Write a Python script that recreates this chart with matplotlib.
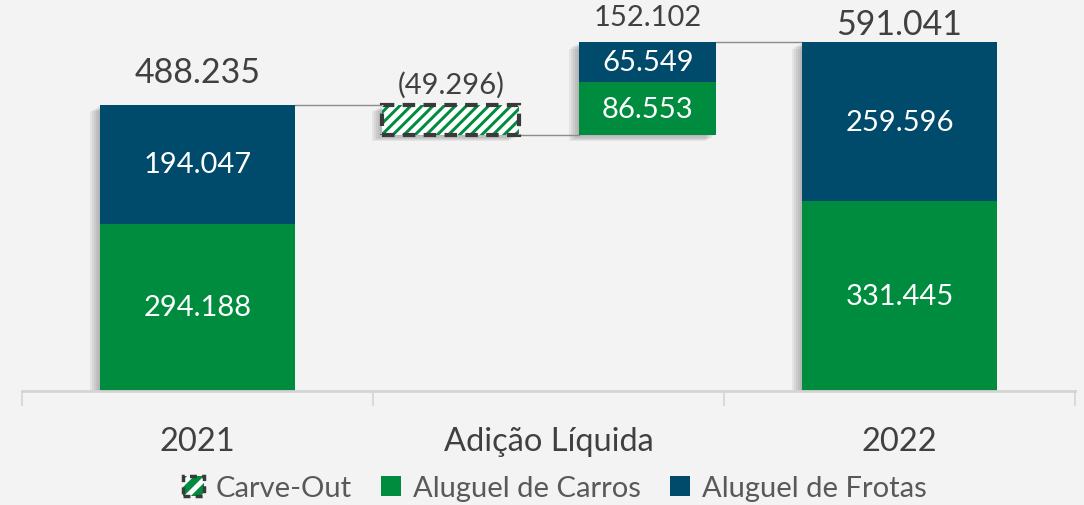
import matplotlib
matplotlib.use('Agg')
import matplotlib.pyplot as plt
import matplotlib.patheffects as pe
from matplotlib.patches import Patch
from matplotlib.legend_handler import HandlerTuple

# valores (mil)
categorias = ['2021', 'Adição Líquida', '2022']
carros = [294.188, 86.553, 331.445]
frotas = [194.047, 65.549, 259.596]
carve_out = -49.296
series = ['Carve-Out', 'Aluguel de Carros', 'Aluguel de Frotas']

GREEN = '#008C3E'
NAVY = '#004B6B'
TXT = '#404040'
BG = '#F3F3F3'

plt.rcParams['font.family'] = ['Lato', 'DejaVu Sans']
plt.rcParams['hatch.linewidth'] = 3.5

fig = plt.figure(figsize=(10.84, 5.06), dpi=100, facecolor=BG)
ax = fig.add_axes([0.0203, 0.2253, 0.9714, 0.7747])
ax.set_facecolor(BG)
y0, y1 = 20, 662
ax.set_xlim(-0.5, 2.5)
ax.set_ylim(y0, y1)

# sombra suave (varias camadas)
shadow = [pe.SimplePatchShadow(offset=(-d, -d * 0.6), shadow_rgbFace='#555555', alpha=0.09)
          for d in (1.5, 3, 4.5, 6, 7.5)]

def add_shadow(x, h, b, w):
    s = ax.bar(x, h, bottom=b, width=w, color='none', zorder=2)
    s[0].set_path_effects(shadow)

def fmt(v):
    return f'{v:.3f}'

# 2021 e 2022 empilhados
total_ini = carros[0] + frotas[0]
total_fim = carros[2] + frotas[2]
for i in (0, 2):
    add_shadow(i, carros[i] + frotas[i], 0, 0.556)
    ax.bar(i, carros[i], width=0.556, color=GREEN, zorder=3)
    ax.bar(i, frotas[i], bottom=carros[i], width=0.556, color=NAVY, zorder=3)
    ax.text(i, (max(0, y0) + carros[i]) / 2, fmt(carros[i]), color='white',
            ha='center', va='center', fontsize=21, zorder=5)
    ax.text(i, carros[i] + frotas[i] / 2, fmt(frotas[i]), color='white',
            ha='center', va='center', fontsize=21, zorder=5)

# carve-out
xc, xa = 1 - 0.278, 1 + 0.283
w_mid = 0.39
base_co = total_ini + carve_out
add_shadow(xc, -carve_out, base_co, w_mid)
ax.bar(xc, -carve_out, bottom=base_co, width=w_mid, color=GREEN,
       edgecolor='white', hatch='///', linewidth=0, zorder=3)
ax.bar(xc, -carve_out, bottom=base_co, width=w_mid, fill=False,
       edgecolor='#3a3a3a', linestyle=(0, (3, 2)), linewidth=3, zorder=4)
ax.annotate(f'({-carve_out:.3f})', (xc, total_ini), xytext=(0, 5), textcoords='offset points',
            ha='center', va='bottom', fontsize=21, color=TXT)

# adição líquida
add_shadow(xa, carros[1] + frotas[1], base_co, w_mid)
ax.bar(xa, carros[1], bottom=base_co, width=w_mid, color=GREEN, zorder=3)
ax.bar(xa, frotas[1], bottom=base_co + carros[1], width=w_mid, color=NAVY, zorder=3)
ax.text(xa, base_co + carros[1] / 2, fmt(carros[1]), color='white',
        ha='center', va='center', fontsize=21, zorder=5)
ax.text(xa, base_co + carros[1] + frotas[1] / 2, fmt(frotas[1]), color='white',
        ha='center', va='center', fontsize=21, zorder=5)
top_mid = base_co + carros[1] + frotas[1]
ax.annotate(fmt(carros[1] + frotas[1]), (xa, top_mid), xytext=(0, 9), textcoords='offset points',
            ha='center', va='bottom', fontsize=21, color=TXT)

# totais
ax.annotate(fmt(total_ini), (0, total_ini), xytext=(0, 12), textcoords='offset points',
            ha='center', va='bottom', fontsize=24.5, color=TXT)
ax.annotate(fmt(total_fim), (2, total_fim), xytext=(0, 2), textcoords='offset points',
            ha='center', va='bottom', fontsize=24.5, color=TXT)

# linhas de ligação
lc = '#8c8c8c'
ax.plot([0.278, xc - w_mid / 2], [total_ini] * 2, color=lc, lw=1, zorder=2)
ax.plot([xc + w_mid / 2, xa - w_mid / 2], [base_co] * 2, color=lc, lw=1, zorder=2)
ax.plot([xa + w_mid / 2, 2 - 0.278], [top_mid] * 2, color=lc, lw=1, zorder=2)

# eixos
for s in ['top', 'right', 'left']:
    ax.spines[s].set_visible(False)
ax.spines['bottom'].set_color('#d4d4d4')
ax.spines['bottom'].set_linewidth(2)
ax.spines['bottom'].set_zorder(6)
ax.set_yticks([])
ax.set_xticks(range(3))
ax.set_xticklabels(categorias, fontsize=23.5, color=TXT)
ax.tick_params(axis='x', which='major', length=0, pad=25)
ax.set_xticks([-0.5, 0.5, 1.5, 2.5], minor=True)
ax.tick_params(axis='x', which='minor', length=11, width=1.2, color='#d4d4d4')

co_handle = (Patch(facecolor=GREEN, edgecolor='white', hatch='//', linewidth=0),
             Patch(fill=False, edgecolor='#3a3a3a', linestyle=(0, (2, 1.5)), linewidth=2.5))
handles = [co_handle, Patch(facecolor=GREEN), Patch(facecolor=NAVY)]
leg = fig.legend(handles, series, loc='center', bbox_to_anchor=(0.512, 0.033), ncol=3,
                 frameon=False, fontsize=21, handlelength=0.7, handleheight=0.7,
                 handletextpad=0.4, columnspacing=1.0, labelcolor='#595959',
                 handler_map={tuple: HandlerTuple(ndivide=1, pad=0)})

fig.savefig('out.png', dpi=100, facecolor=BG)
